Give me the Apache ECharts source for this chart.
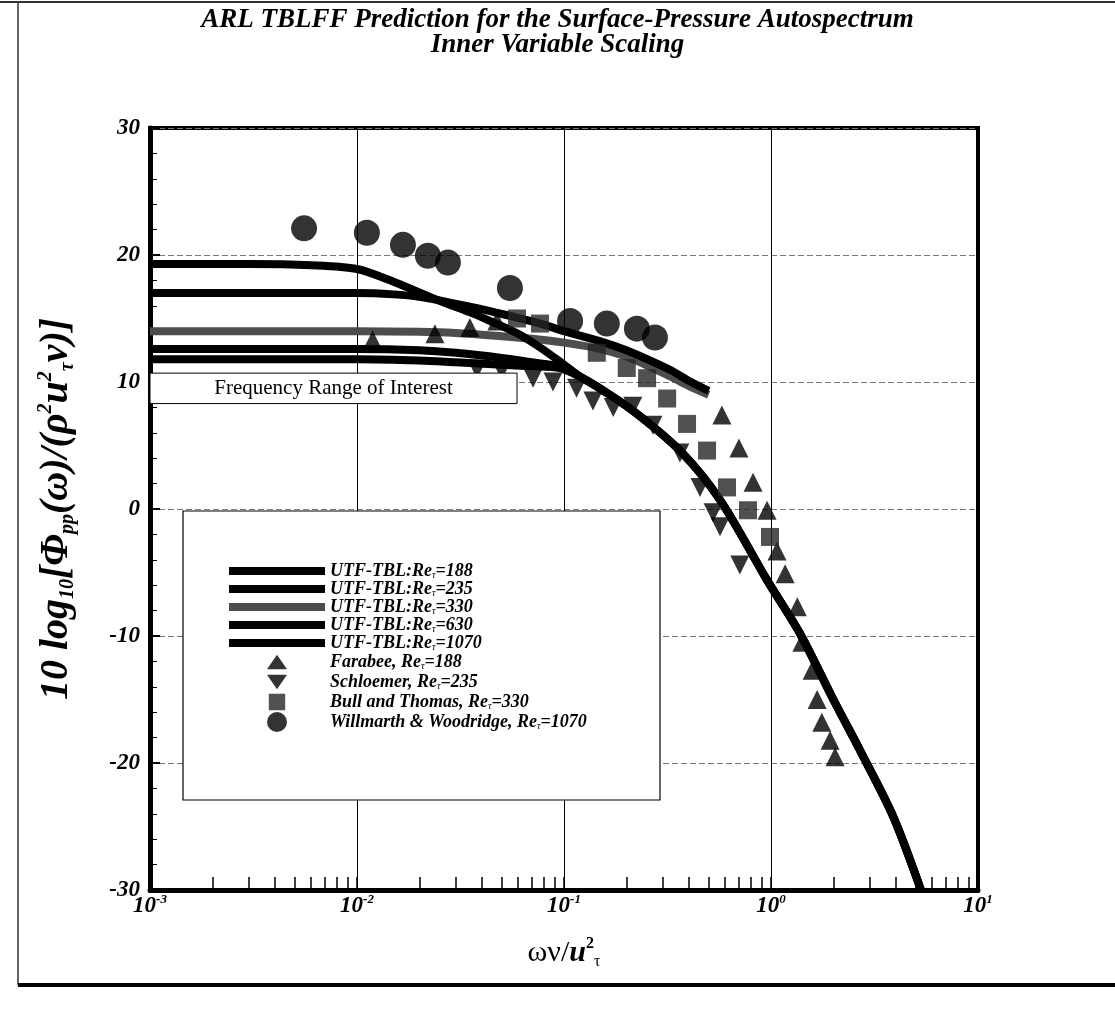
<!DOCTYPE html>
<html>
<head>
<meta charset="utf-8">
<title>ARL TBLFF Prediction</title>
<script src="https://cdn.jsdelivr.net/npm/echarts@6/dist/echarts.min.js"></script>
<style>
    html, body { margin: 0; padding: 0; background: #fff; }
    #chart { width: 1115px; height: 1011px; }
</style>
</head>
<body>
<div id="chart"></div>
<script>
// axis ticks
const xDecades = [0.001, 0.01, 0.1, 1, 10]
const xExpLabels = ['-3', '-2', '-1', '0', '1']
const yTicks = [-30, -20, -10, 0, 10, 20, 30]

// UTF-TBL predictions, low frequency part (f = omega*nu/u_tau^2, dB)
const re188F = [0.001, 0.005, 0.01, 0.02, 0.03, 0.05, 0.07, 0.0957]
const re188V = [11.8, 11.8, 11.8, 11.7, 11.55, 11.35, 11.25, 11.1]
const re235F = [0.001, 0.005, 0.01, 0.02, 0.03, 0.05, 0.07, 0.0957]
const re235V = [12.6, 12.6, 12.6, 12.5, 12.3, 11.9, 11.55, 11.2]
const re1070F = [0.001, 0.003, 0.006, 0.01, 0.015, 0.025, 0.035, 0.044, 0.06, 0.077, 0.0957]
const re1070V = [19.3, 19.3, 19.2, 18.9, 17.9, 16.4, 15.5, 14.8, 13.8, 12.7, 11.6]
// Re=330 and Re=630 curves stop near 0.5
const re330F = [0.001, 0.01, 0.02, 0.03, 0.05, 0.07, 0.1, 0.15, 0.2, 0.26, 0.33, 0.4, 0.5]
const re330V = [14.0, 14.0, 13.95, 13.85, 13.6, 13.4, 13.1, 12.6, 12.0, 11.2, 10.4, 9.7, 9.0]
const re630F = [0.001, 0.005, 0.01, 0.015, 0.02, 0.036, 0.055, 0.077, 0.1, 0.15, 0.2, 0.26, 0.33, 0.4, 0.5]
const re630V = [17.0, 17.0, 17.0, 16.9, 16.7, 15.9, 15.2, 14.6, 14.0, 13.2, 12.5, 11.7, 10.9, 10.1, 9.3]
// shared high frequency roll-off
const tailF = [0.12, 0.149, 0.215, 0.363, 0.568, 0.957, 1.38, 2.0, 2.69, 3.89, 5.3]
const tailV = [10.4, 9.5, 7.75, 4.6, 0.7, -5.6, -9.8, -15.0, -19.0, -24.2, -30]

// measurements
const farabeeF = [0.0119, 0.0238, 0.0351, 0.0474, 0.579, 0.70, 0.819, 0.957, 1.069, 1.17, 1.34, 1.41, 1.58, 1.67, 1.76, 1.93, 2.04]
const farabeeV = [13.3, 13.8, 14.3, 14.8, 7.4, 4.8, 2.1, -0.1, -3.3, -5.1, -7.7, -10.5, -12.7, -15.0, -16.8, -18.2, -19.5]
const schloemerF = [0.038, 0.05, 0.0709, 0.0885, 0.115, 0.138, 0.173, 0.215, 0.269, 0.363, 0.454, 0.525, 0.567, 0.707]
const schloemerV = [11.0, 10.9, 10.3, 10.0, 9.5, 8.5, 8.0, 8.1, 6.6, 4.4, 1.7, -0.3, -1.4, -4.4]
const bullF = [0.0593, 0.0766, 0.144, 0.201, 0.252, 0.315, 0.393, 0.491, 0.613, 0.774, 0.989]
const bullV = [15.0, 14.6, 12.3, 11.1, 10.3, 8.7, 6.7, 4.6, 1.7, -0.1, -2.2]
const willmarthF = [0.00555, 0.01116, 0.01667, 0.022, 0.0275, 0.0548, 0.107, 0.161, 0.225, 0.275]
const willmarthV = [22.1, 21.75, 20.8, 19.94, 19.4, 17.4, 14.8, 14.6, 14.2, 13.5]

// frequency range of interest (box)
const rangeF = [0.001, 0.0593]
const rangeV = [8.3, 10.7]

const serif = 'Liberation Serif'

function zip(xs, ys) {
    return xs.map((x, i) => [x, ys[i]])
}

// minor ticks 1..9 in each decade
const minorTicks = []
for (let d = 0; d < xDecades.length - 1; d++) {
    for (let m = 1; m <= 9; m++) minorTicks.push(+(xDecades[d] * m).toPrecision(3))
}
minorTicks.push(10)

const lineSeries = [
    { name: 'UTF-TBL:Reτ=188', f: re188F.concat(tailF), v: re188V.concat(tailV), color: '#000' },
    { name: 'UTF-TBL:Reτ=235', f: re235F.concat(tailF), v: re235V.concat(tailV), color: '#000' },
    { name: 'UTF-TBL:Reτ=330', f: re330F, v: re330V, color: '#4d4d4d' },
    { name: 'UTF-TBL:Reτ=630', f: re630F, v: re630V, color: '#000' },
    { name: 'UTF-TBL:Reτ=1070', f: re1070F.concat(tailF), v: re1070V.concat(tailV), color: '#000' },
].map(s => ({
    name: s.name,
    type: 'line',
    data: zip(s.f, s.v),
    smooth: 0.3,
    symbol: 'none',
    lineStyle: { width: 8, color: s.color },
    itemStyle: { color: s.color },
    z: 2,
}))

// legend glyphs: two tiny corner specks keep a 22x22 frame so the shapes keep some margin
const frame = 'M0,0L0.01,0L0,0.01ZM22,22L21.99,22L22,21.99Z'
const scatterSeries = [
    { name: 'Farabee, Reτ=188', data: zip(farabeeF, farabeeV), symbol: 'triangle', size: 19, rotate: 0, color: '#000', icon: 'path://' + frame + 'M0,19L11,3L22,19Z' },
    { name: 'Schloemer, Reτ=235', data: zip(schloemerF, schloemerV), symbol: 'triangle', size: 19, rotate: 180, color: '#000', icon: 'path://' + frame + 'M0,3L22,3L11,19Z' },
    { name: 'Bull and Thomas, Reτ=330', data: zip(bullF, bullV), symbol: 'rect', size: 18, rotate: 0, color: '#262626', icon: 'path://' + frame + 'M2,2H20V20H2Z' },
    { name: 'Willmarth & Woodridge, Reτ=1070', data: zip(willmarthF, willmarthV), symbol: 'circle', size: 26, rotate: 0, color: '#000', icon: 'path://M12,0A12,12,0,1,1,11.99,0Z' },
].map(s => ({
    name: s.name,
    type: 'scatter',
    data: s.data,
    symbol: s.symbol,
    symbolSize: s.size,
    symbolRotate: s.rotate,
    itemStyle: { color: s.color },
    z: 3,
    legendIcon: s.icon,
}))

// box "Frequency Range of Interest" via markArea
scatterSeries[0].markArea = {
    silent: true,
    z: 6,
    itemStyle: { color: '#fff', borderColor: '#000', borderWidth: 1, opacity: 1 },
    label: {
        show: true, position: 'inside', color: '#000',
        fontFamily: serif, fontSize: 21,
    },
    data: [[
        { name: 'Frequency Range of Interest', coord: [rangeF[0], rangeV[1]] },
        { coord: [rangeF[1], rangeV[0]] },
    ]],
}

// legend entries: lines hide the default symbol, markers use their own glyph
const legendData = lineSeries.map(s => ({ name: s.name, itemStyle: { opacity: 0 } }))
    .concat(scatterSeries.map(s => ({ name: s.name, icon: s.legendIcon })))

const chart = echarts.init(document.getElementById('chart'))

const option = {
    backgroundColor: '#fff',
    animation: false,
    title: {
        text: 'ARL TBLFF Prediction for the Surface-Pressure Autospectrum\nInner Variable Scaling',
        left: 'center',
        top: 3,
        textStyle: {
            fontFamily: serif, fontStyle: 'italic', fontWeight: 'bold',
            fontSize: 27, lineHeight: 25, color: '#000',
        },
    },
    graphic: [
        // page frame
        { type: 'line', shape: { x1: 0, y1: 2, x2: 1115, y2: 2 }, style: { stroke: '#333', lineWidth: 2 } },
        { type: 'line', shape: { x1: 18, y1: 2, x2: 18, y2: 985 }, style: { stroke: '#333', lineWidth: 1.5 } },
        { type: 'line', shape: { x1: 18, y1: 985, x2: 1115, y2: 985 }, style: { stroke: '#000', lineWidth: 4 } },
        // legend box
        { type: 'rect', z: 3, shape: { x: 183, y: 511, width: 477, height: 289 }, style: { fill: '#fff', stroke: '#000', lineWidth: 1.2 } },
    ],
    legend: {
        orient: 'vertical',
        left: 220,
        top: 557,
        z: 5,
        itemWidth: 96,
        itemHeight: 20,
        itemGap: 0,
        symbolKeepAspect: true,
        lineStyle: { width: 8 },
        data: legendData,
        formatter: function (name) {
            const p = name.split('τ')
            return '{t|' + p[0] + '}{s|τ}{t|' + p[1] + '}'
        },
        textStyle: {
            color: '#000',
            rich: {
                t: { fontFamily: serif, fontStyle: 'italic', fontWeight: 'bold', fontSize: 18, color: '#000' },
                s: { fontFamily: serif, fontStyle: 'italic', fontSize: 10, verticalAlign: 'bottom', color: '#000' },
            },
        },
    },
    grid: {
        left: 150,
        right: 137,
        top: 128,
        bottom: 121,
        show: true,
        borderColor: '#000',
        borderWidth: 4,
    },
    xAxis: [
        {
            type: 'log',
            logBase: 10,
            min: xDecades[0],
            max: xDecades[xDecades.length - 1],
            axisLine: { onZero: false, lineStyle: { color: '#000', width: 5 } },
            axisTick: { inside: true, length: 13, customValues: minorTicks, lineStyle: { color: '#000', width: 1.5 } },
            splitLine: { show: false },
            axisLabel: {
                margin: 3,
                formatter: function (value) {
                    const i = xDecades.findIndex(d => Math.abs(Math.log10(d) - Math.log10(value)) < 1e-6)
                    return '{b|10}{s|' + xExpLabels[i] + '}'
                },
                rich: {
                    b: { fontFamily: serif, fontStyle: 'italic', fontWeight: 'bold', fontSize: 23, lineHeight: 26, color: '#000' },
                    s: { fontFamily: serif, fontStyle: 'italic', fontWeight: 'bold', fontSize: 13, verticalAlign: 'top', lineHeight: 13, color: '#000' },
                },
            },
            name: '{g|ων/}{u|u}{sp|2}{sb|τ}',
            nameLocation: 'middle',
            nameGap: 46,
            nameTextStyle: {
                rich: {
                    g: { fontFamily: serif, fontSize: 30, lineHeight: 34, color: '#000' },
                    u: { fontFamily: serif, fontStyle: 'italic', fontWeight: 'bold', fontSize: 30, lineHeight: 34, color: '#000' },
                    sp: { fontFamily: serif, fontWeight: 'bold', fontSize: 16, verticalAlign: 'top', lineHeight: 16, color: '#000' },
                    sb: { fontFamily: serif, fontSize: 16, verticalAlign: 'bottom', lineHeight: 16, color: '#000' },
                },
            },
        },
        {
            // decade grid lines only
            type: 'log',
            logBase: 10,
            min: xDecades[0],
            max: xDecades[xDecades.length - 1],
            axisLine: { show: false },
            axisTick: { show: false },
            axisLabel: { show: false },
            splitLine: { show: true, lineStyle: { color: '#000', width: 1 } },
        },
    ],
    yAxis: {
        type: 'value',
        min: yTicks[0],
        max: yTicks[yTicks.length - 1],
        interval: 10,
        axisLine: { show: true, onZero: false, lineStyle: { color: '#000', width: 5 } },
        axisTick: { inside: true, length: 10, lineStyle: { color: '#000', width: 2 } },
        minorTick: { show: true, splitNumber: 5, length: 7, lineStyle: { color: '#000', width: 1 } },
        splitLine: { show: true, lineStyle: { color: '#777', width: 1, type: [6, 3] } },
        axisLabel: {
            margin: 10,
            fontFamily: serif, fontStyle: 'italic', fontWeight: 'bold', fontSize: 23, color: '#000',
        },
        name: '{b|10 log}{sb|10}{b|[Φ}{sb|pp}{b|(ω)/(ρ}{sp|2}{b|u}{sp|2}{sb|τ}{b|ν)]}',
        nameLocation: 'middle',
        nameGap: 72,
        nameTextStyle: {
            rich: {
                b: { fontFamily: serif, fontStyle: 'italic', fontWeight: 'bold', fontSize: 40, lineHeight: 42, color: '#000' },
                sb: { fontFamily: serif, fontStyle: 'italic', fontWeight: 'bold', fontSize: 20, verticalAlign: 'bottom', lineHeight: 20, color: '#000' },
                sp: { fontFamily: serif, fontStyle: 'italic', fontWeight: 'bold', fontSize: 20, verticalAlign: 'top', lineHeight: 20, color: '#000' },
            },
        },
    },
    series: lineSeries.concat(scatterSeries),
}

chart.setOption(option)
</script>
</body>
</html>
